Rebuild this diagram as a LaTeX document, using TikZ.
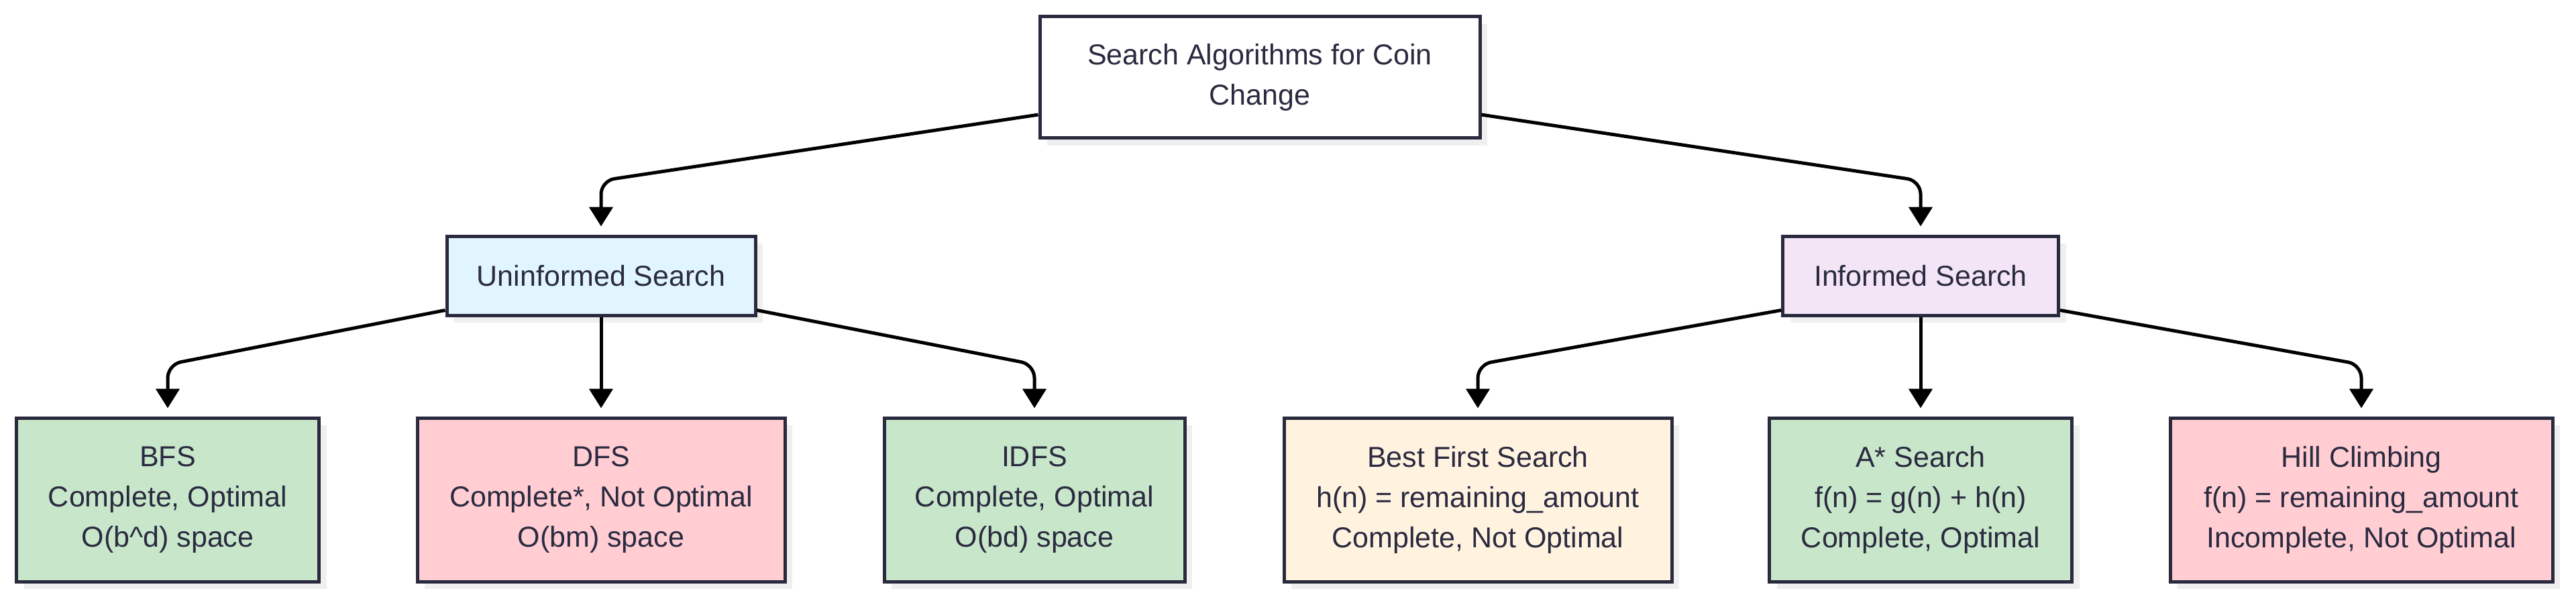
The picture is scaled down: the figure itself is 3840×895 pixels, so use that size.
\documentclass[tikz,border=0pt]{standalone}
\usepackage{fontspec}
\setmainfont{Liberation Sans}
\usetikzlibrary{arrows.meta,shadows,calc}
\definecolor{ink}{RGB}{42,42,64}
\definecolor{bord}{RGB}{42,42,62}
\definecolor{cblue}{HTML}{E1F5FE}
\definecolor{cpurple}{HTML}{F3E5F5}
\definecolor{cgreen}{HTML}{C8E6C9}
\definecolor{cred}{HTML}{FFCDD2}
\definecolor{ccream}{HTML}{FFF3E0}
\definecolor{shade}{HTML}{EFEFEF}
\begin{document}
\begin{tikzpicture}[x=0.5pt,y=-0.5pt,
  box/.style={draw=bord, line width=2.5pt, align=center, text=ink,
    font=\fontsize{21.5pt}{30pt}\selectfont, inner sep=0pt,
    drop shadow={shadow xshift=5.5pt,shadow yshift=-5.5pt,fill=shade,opacity=1}},
  leaf/.style={box, minimum height=122pt},
  mid/.style={box, minimum height=59pt},
  conn/.style={draw=black, line width=2.5pt, rounded corners=10pt,
    -{Triangle[length=14.5pt,width=17.5pt]}},
]
\useasboundingbox (0,0) rectangle (3840,895);

\node[box, fill=white, minimum width=328pt, minimum height=90.5pt] (root) at (1878,115) {Search Algorithms for Coin\\Change};

\node[mid, fill=cblue, minimum width=230pt] (unin) at (896,411) {Uninformed Search};
\node[mid, fill=cpurple, minimum width=205.5pt] (inf) at (2863,411) {Informed Search};

\node[leaf, fill=cgreen, minimum width=225.5pt] (bfs) at (250,745) {BFS\\Complete, Optimal\\O(b\textasciicircum d) space};
\node[leaf, fill=cred, minimum width=274pt] (dfs) at (896,745) {DFS\\Complete*, Not Optimal\\O(bm) space};
\node[leaf, fill=cgreen, minimum width=224pt] (idfs) at (1542,745) {IDFS\\Complete, Optimal\\O(bd) space};
\node[leaf, fill=ccream, minimum width=289pt] (best) at (2203,745) {Best First Search\\h(n) = remaining\_amount\\Complete, Not Optimal};
\node[leaf, fill=cgreen, minimum width=225.5pt] (astar) at (2863,745) {A* Search\\f(n) = g(n) + h(n)\\Complete, Optimal};
\node[leaf, fill=cred, minimum width=285pt] (hill) at (3520,745) {Hill Climbing\\f(n) = remaining\_amount\\Incomplete, Not Optimal};

\draw[conn] ($(root.south west)+(0,-37)$) -- ($(unin.north)+(0,-80)$) -- ($(unin.north)+(0,-12)$);
\draw[conn] ($(root.south east)+(0,-37)$) -- ($(inf.north)+(0,-80)$) -- ($(inf.north)+(0,-12)$);

\draw[conn] ($(unin.south west)+(0,-10)$) -- ($(bfs.north)+(0,-77)$) -- ($(bfs.north)+(0,-12)$);
\draw[conn] (unin.south) -- ($(dfs.north)+(0,-12)$);
\draw[conn] ($(unin.south east)+(0,-10)$) -- ($(idfs.north)+(0,-77)$) -- ($(idfs.north)+(0,-12)$);

\draw[conn] ($(inf.south west)+(0,-10)$) -- ($(best.north)+(0,-77)$) -- ($(best.north)+(0,-12)$);
\draw[conn] (inf.south) -- ($(astar.north)+(0,-12)$);
\draw[conn] ($(inf.south east)+(0,-10)$) -- ($(hill.north)+(0,-77)$) -- ($(hill.north)+(0,-12)$);
\end{tikzpicture}
\end{document}
